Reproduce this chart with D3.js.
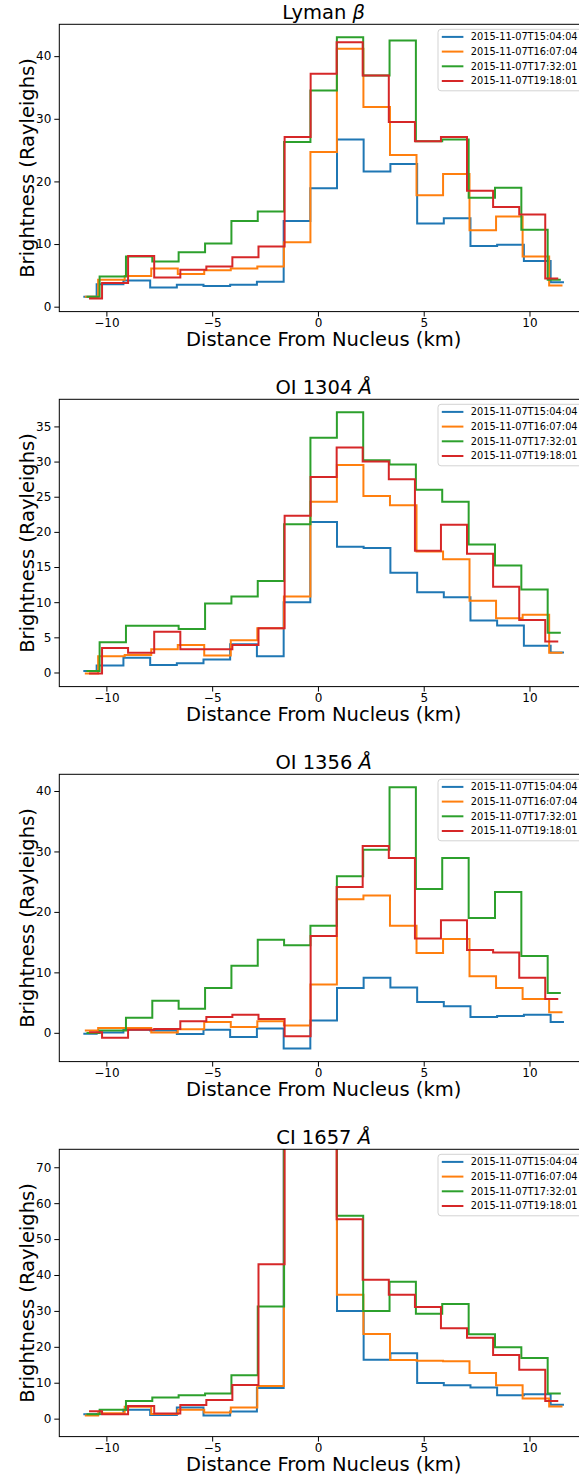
<!DOCTYPE html>
<html>
<head>
<meta charset="utf-8">
<script src="https://cdn.jsdelivr.net/npm/d3@7"></script>
<style>
  body { margin: 0; background: #fff; }
  text { font-family: "DejaVu Sans", sans-serif; fill: #000; }
</style>
</head>
<body>
<div id="chart"></div>
<script>
// observation times and colours
var times = ["2015-11-07T15:04:04", "2015-11-07T16:07:04", "2015-11-07T17:32:01", "2015-11-07T19:18:01"];
var colors = ["#1f77b4", "#ff7f0e", "#2ca02c", "#d62728"];

// distance of each bin centre (km), one array per observation
var xBlue   = [-11.09, -9.83, -8.56, -7.30, -6.04, -4.78, -3.52, -2.25, -0.99, 0.27, 1.53, 2.79, 4.06, 5.32, 6.58, 7.84, 9.10, 10.37, 11.63];
var xOrange = [-11.02, -9.76, -8.51, -7.25, -6.00, -4.75, -3.49, -2.24, -0.98, 0.27, 1.52, 2.78, 4.03, 5.29, 6.54, 7.79, 9.05, 10.30, 11.56];
var xGreen  = [-10.94, -9.70, -8.45, -7.21, -5.96, -4.71, -3.47, -2.22, -0.98, 0.27, 1.52, 2.76, 4.01, 5.25, 6.50, 7.75, 8.99, 10.24, 11.48];
var xRed    = [-10.82, -9.59, -8.36, -7.12, -5.89, -4.66, -3.43, -2.19, -0.96, 0.27, 1.50, 2.73, 3.97, 5.20, 6.43, 7.66, 8.90, 10.13, 11.36];

// Lyman beta
var lybBlue   = [1.6, 3.6, 4.2, 3.05, 3.5, 3.3, 3.5, 4.0, 13.7, 18.9, 26.7, 21.6, 22.8, 13.3, 14.1, 9.7, 9.9, 7.3, 3.9];
var lybOrange = [1.6, 4.3, 4.9, 6.1, 5.2, 5.8, 6.1, 6.4, 10.3, 24.7, 41.2, 31.9, 24.2, 17.8, 21.2, 12.2, 14.4, 8.0, 3.4];
var lybGreen  = [1.6, 4.8, 8.0, 7.2, 8.7, 10.1, 13.7, 15.2, 26.3, 34.5, 43.0, 36.9, 42.5, 26.4, 26.7, 17.4, 19.0, 12.3, 4.3];
var lybRed    = [1.3, 3.8, 8.1, 4.65, 5.9, 6.4, 7.9, 9.6, 27.1, 37.2, 42.2, 36.9, 29.5, 26.4, 27.1, 18.5, 15.9, 14.7, 4.5];

// OI 1304
var oi1304Blue   = [0.2, 1.0, 2.1, 1.05, 1.3, 1.85, 4.0, 2.3, 10.0, 21.4, 17.9, 17.7, 14.2, 11.4, 10.7, 7.4, 6.7, 3.8, 2.85];
var oi1304Orange = [-0.15, 2.3, 2.5, 3.3, 3.9, 2.4, 4.6, 6.3, 10.8, 24.3, 29.5, 25.1, 23.8, 17.2, 16.1, 10.2, 7.7, 8.2, 2.8];
var oi1304Green  = [0.2, 4.3, 6.65, 6.65, 6.2, 9.8, 10.8, 13.0, 21.1, 33.4, 37.0, 30.2, 29.6, 26.0, 24.3, 18.2, 15.2, 11.8, 5.65];
var oi1304Red    = [-0.15, 3.5, 2.8, 5.8, 3.3, 3.3, 3.9, 6.3, 22.3, 27.8, 32.0, 30.0, 27.5, 17.3, 21.0, 16.9, 12.2, 7.45, 4.4];

// OI 1356
var oi1356Blue   = [-0.15, 0.05, 0.5, 0.4, -0.2, 0.5, -0.7, 0.7, -2.6, 2.05, 7.4, 9.1, 7.5, 5.1, 4.4, 2.6, 2.8, 3.0, 1.8];
var oi1356Orange = [0.4, 0.8, 0.8, 0.05, 0.6, 1.8, 0.95, 1.9, 1.2, 8.0, 22.1, 22.7, 17.7, 13.2, 15.5, 9.35, 7.4, 5.6, 3.4];
var oi1356Green  = [-0.05, 0.4, 2.5, 5.3, 4.0, 7.4, 11.1, 15.4, 14.5, 17.7, 25.9, 30.3, 40.6, 23.8, 28.9, 19.0, 23.3, 12.7, 6.6];
var oi1356Red    = [0.1, -0.8, 0.5, 0.65, 1.9, 2.6, 3.0, 2.3, -0.55, 16.0, 24.1, 30.9, 28.9, 15.6, 18.6, 13.7, 13.3, 9.1, 5.6];

// CI 1657 (central bins run off the top of the plot)
var ci1657Blue   = [1.2, 1.3, 2.5, 1.0, 3.1, 0.9, 2.0, 8.5, 110, 100, 30.0, 16.4, 18.2, 9.9, 9.3, 8.7, 6.5, 6.8, 3.9];
var ci1657Orange = [0.9, 1.5, 3.3, 1.3, 2.5, 1.7, 3.1, 9.1, 120, 110, 34.5, 23.6, 16.3, 16.1, 16.0, 12.7, 9.3, 5.6, 3.4];
var ci1657Green  = [1.2, 2.5, 4.9, 5.9, 6.5, 7.0, 12.1, 31.2, 150, 140, 56.5, 30.0, 38.1, 29.2, 31.9, 23.5, 19.9, 16.9, 7.0];
var ci1657Red    = [2.05, 1.2, 3.5, 1.4, 3.8, 5.2, 9.4, 43.0, 160, 150, 55.5, 38.7, 34.5, 31.1, 25.2, 22.5, 17.7, 13.6, 4.9];

var xTicks = [-10, -5, 0, 5, 10];
var xs = [xBlue, xOrange, xGreen, xRed];

var panels = [
  { title: ["Lyman ", "β"], series: [lybBlue, lybOrange, lybGreen, lybRed], ticks: [0, 10, 20, 30, 40] },
  { title: ["OI 1304 ", "Å"], series: [oi1304Blue, oi1304Orange, oi1304Green, oi1304Red], ticks: [0, 5, 10, 15, 20, 25, 30, 35] },
  { title: ["OI 1356 ", "Å"], series: [oi1356Blue, oi1356Orange, oi1356Green, oi1356Red], ticks: [0, 10, 20, 30, 40] },
  { title: ["CI 1657 ", "Å"], series: [ci1657Blue, ci1657Orange, ci1657Green, ci1657Red], ticks: [0, 10, 20, 30, 40, 50, 60, 70], ylim: [-5, 75] }
];

var svgWidth = 579;
var svgHeight = 1477;
var left = 59.3;
var width = 528.7;
var height = 287.3;
var firstTop = 24.3;
var step = 375;

var svg = d3.select("#chart")
  .append("svg")
  .attr("width", svgWidth)
  .attr("height", svgHeight);

// x domain: data extent plus 5% like matplotlib
var allX = d3.merge(xs);
var xMin = d3.min(allX), xMax = d3.max(allX);
var xPad = (xMax - xMin) * 0.05;
var xScale = d3.scaleLinear()
  .domain([xMin - xPad, xMax + xPad])
  .range([0, width]);

panels.forEach(function(p, i) {
  var top = firstTop + step * i;
  var g = svg.append("g").attr("transform", `translate(${left}, ${top})`);

  var yDomain = p.ylim;
  if (!yDomain) {
    var allY = d3.merge(p.series);
    var yMin = d3.min(allY), yMax = d3.max(allY);
    var yPad = (yMax - yMin) * 0.05;
    yDomain = [yMin - yPad, yMax + yPad];
  }
  var yScale = d3.scaleLinear().domain(yDomain).range([height, 0]);

  g.append("clipPath")
    .attr("id", "clip" + i)
    .append("rect")
    .attr("width", width)
    .attr("height", height);

  var line = d3.line()
    .x(d => xScale(d[0]))
    .y(d => yScale(d[1]))
    .curve(d3.curveStep);

  var plot = g.append("g").attr("clip-path", `url(#clip${i})`);
  p.series.forEach(function(vals, s) {
    var pts = vals.map((v, k) => [xs[s][k], v]);
    plot.append("path")
      .datum(pts)
      .attr("d", line)
      .attr("fill", "none")
      .attr("stroke", colors[s])
      .attr("stroke-width", 2)
      .attr("stroke-linejoin", "miter");
  });

  // axes
  var bottomAxis = d3.axisBottom(xScale)
    .tickValues(xTicks)
    .tickSize(5)
    .tickPadding(1.5)
    .tickFormat(d => d < 0 ? "\u2212" + Math.abs(d) : d);
  var leftAxis = d3.axisLeft(yScale)
    .tickValues(p.ticks)
    .tickSize(5)
    .tickPadding(3);

  var xa = g.append("g")
    .attr("transform", `translate(0, ${height})`)
    .call(bottomAxis);
  var ya = g.append("g").call(leftAxis);

  [xa, ya].forEach(function(a) {
    a.select(".domain").remove();
    a.selectAll("line").attr("stroke", "#000").attr("stroke-width", 1);
    a.selectAll("text")
      .style("font-family", "DejaVu Sans")
      .style("font-size", "12px")
      .attr("fill", "#000");
  });

  // frame
  g.append("rect")
    .attr("width", width)
    .attr("height", height)
    .attr("fill", "none")
    .attr("stroke", "#000")
    .attr("stroke-width", 1);

  // title
  var t = g.append("text")
    .attr("x", width / 2)
    .attr("y", -5)
    .attr("text-anchor", "middle")
    .style("font-size", "19.5px");
  t.append("tspan").text(p.title[0]);
  t.append("tspan").style("font-style", "italic").text(p.title[1]);

  // axis labels
  g.append("text")
    .attr("x", width / 2)
    .attr("y", height + 34)
    .attr("text-anchor", "middle")
    .style("font-size", "19.5px")
    .text("Distance From Nucleus (km)");

  g.append("text")
    .attr("transform", `translate(${33.5 - left}, ${height / 2}) rotate(-90)`)
    .attr("text-anchor", "middle")
    .style("font-size", "19.5px")
    .text("Brightness (Rayleighs)");

  // legend
  var lg = g.append("g").attr("transform", `translate(${438 - left}, 5)`);
  lg.append("rect")
    .attr("width", 160)
    .attr("height", 61.5)
    .attr("rx", 3)
    .attr("fill", "#fff")
    .attr("fill-opacity", 0.8)
    .attr("stroke", "#d3d3d3")
    .attr("stroke-width", 1);
  times.forEach(function(tm, s) {
    var cy = 7.6 + s * 14.7;
    lg.append("line")
      .attr("x1", 3.8).attr("x2", 25.4)
      .attr("y1", cy).attr("y2", cy)
      .attr("stroke", colors[s])
      .attr("stroke-width", 2);
    lg.append("text")
      .attr("x", 32.7)
      .attr("y", cy)
      .attr("dy", "0.35em")
      .style("font-size", "9.8px")
      .text(tm);
  });
});
</script>
</body>
</html>
